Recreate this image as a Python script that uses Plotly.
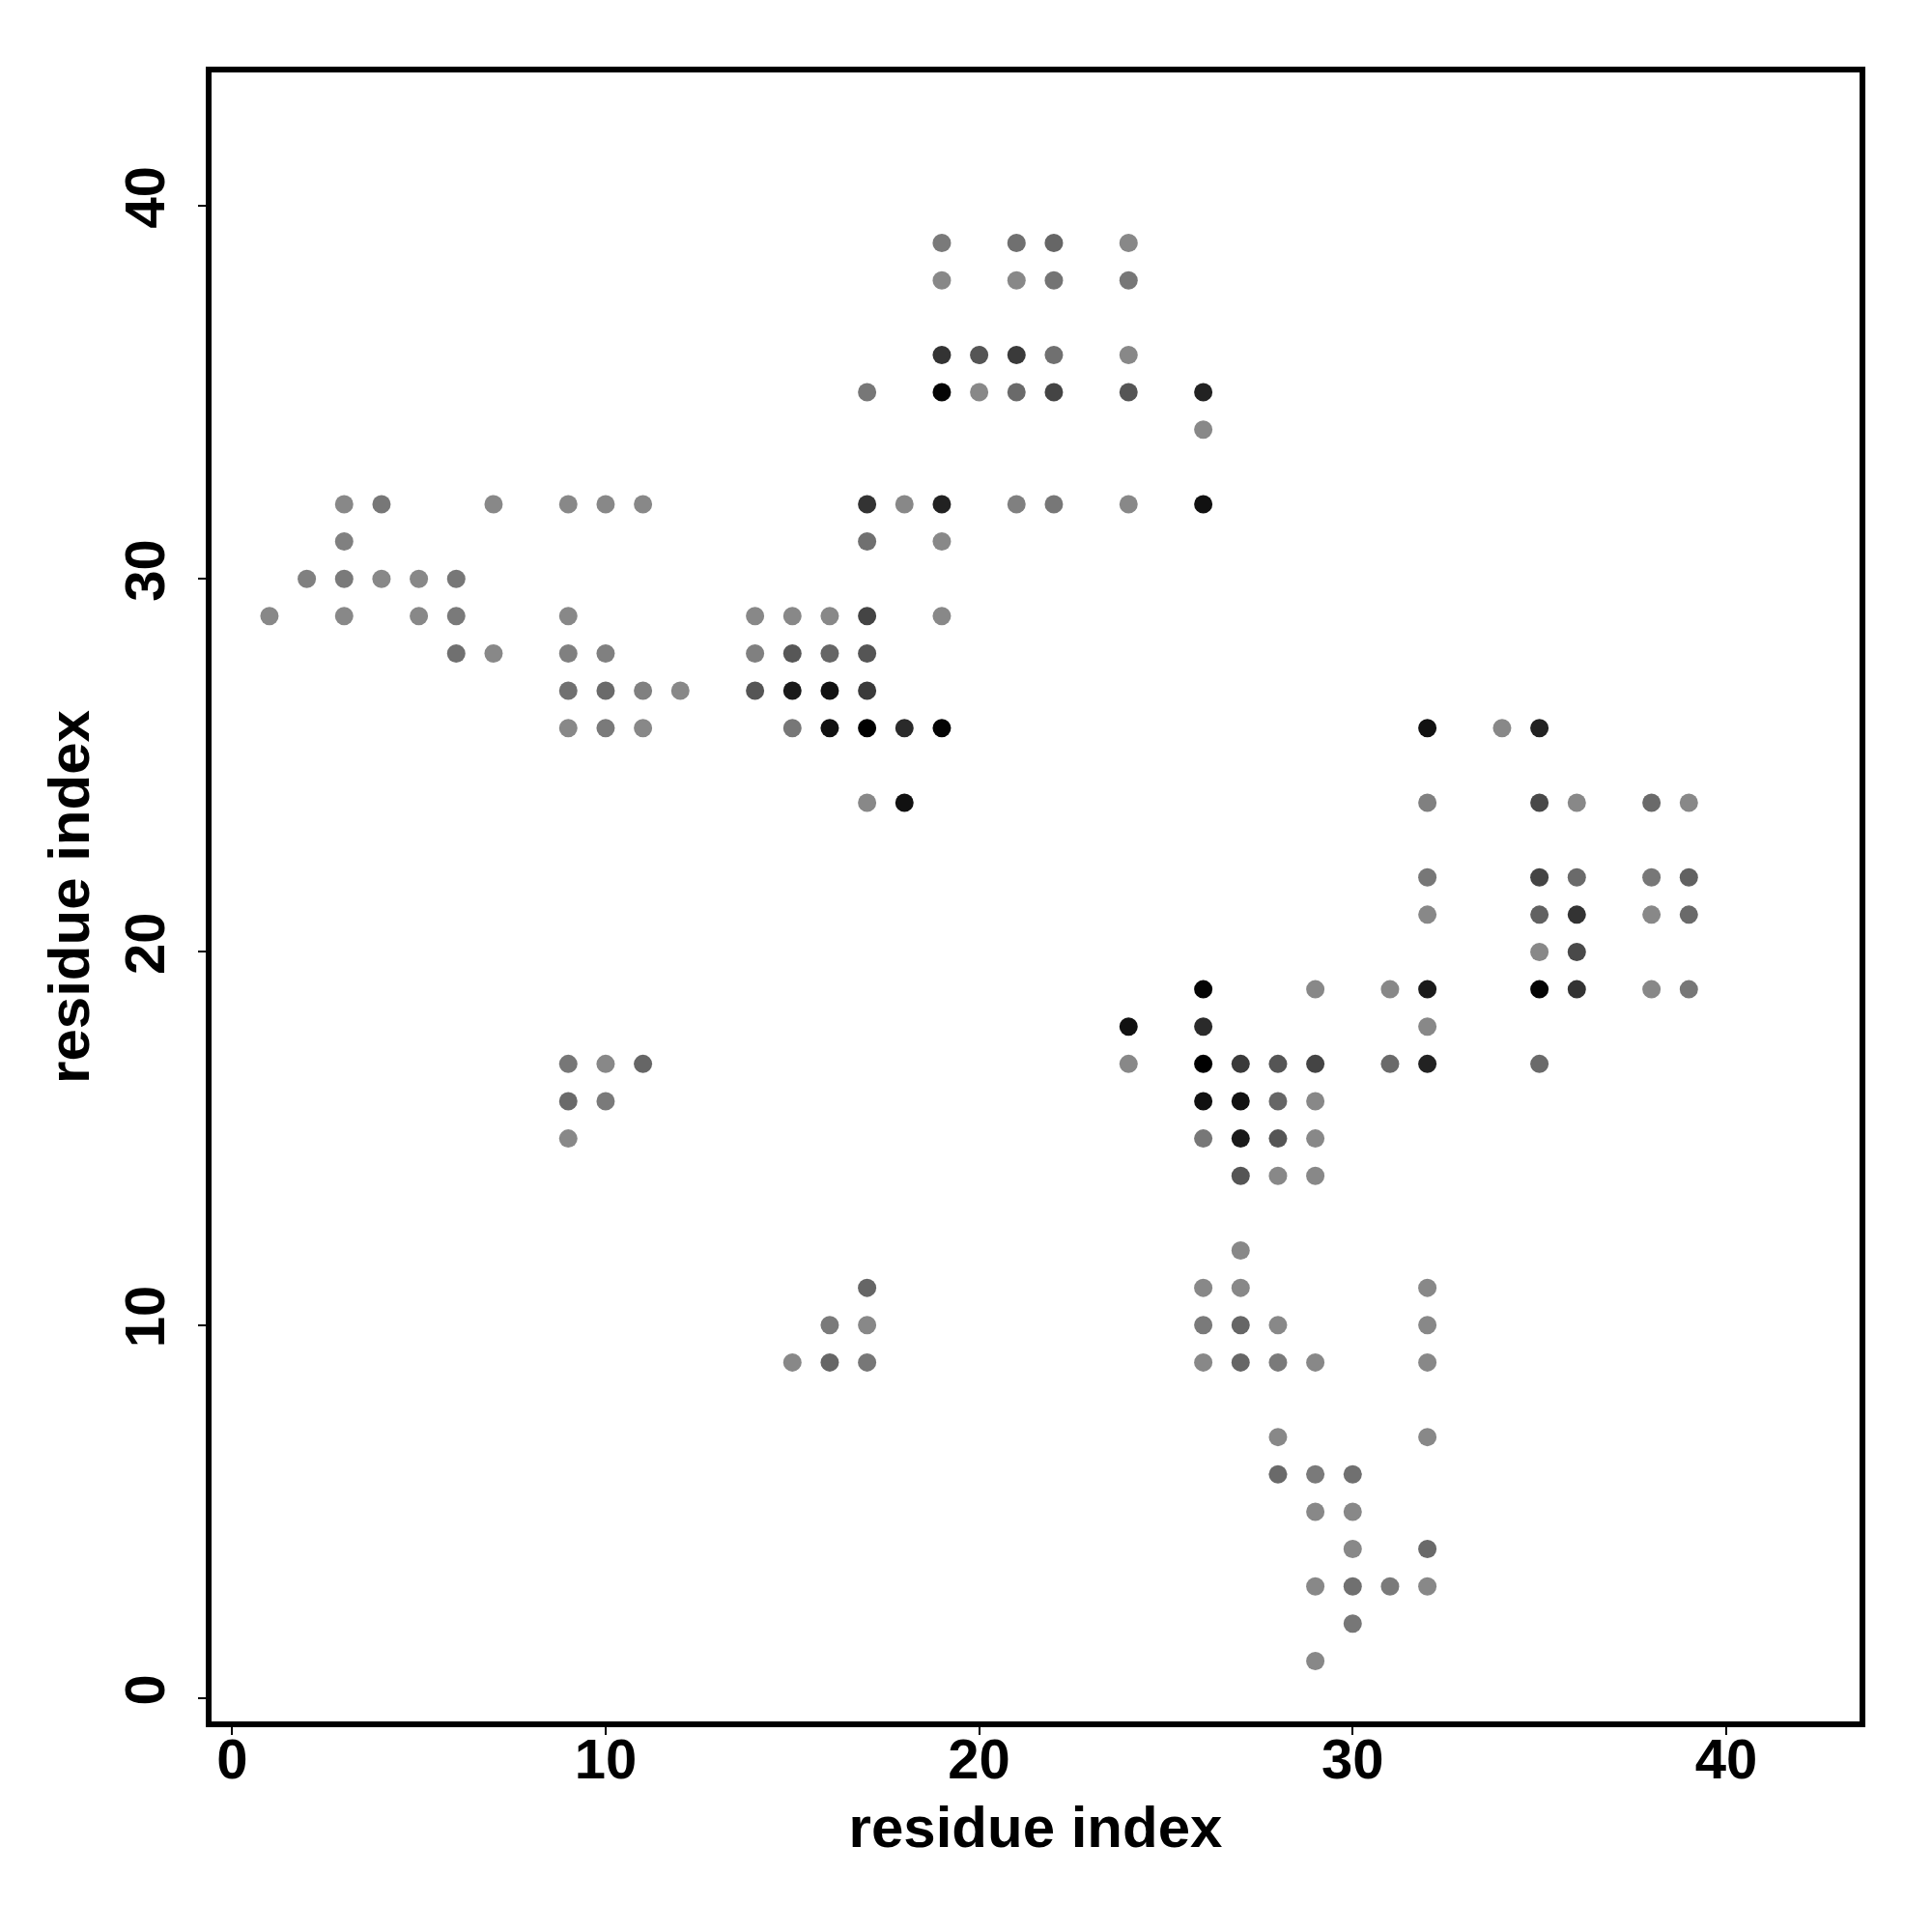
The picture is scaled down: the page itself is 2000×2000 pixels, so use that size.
import plotly.graph_objects as go

# Contact points: residue i (x), residue j (y), contact strength (0 = light gray, 1 = black)
res_x = [
    19, 21, 22, 24,
    19, 21, 22, 24,
    19, 20, 21, 22, 24,
    17, 19, 20, 21, 22, 24, 26,
    26,
    3, 4, 7, 9, 10, 11, 17, 18, 19, 21, 22, 24, 26,
    3, 17, 19,
    2, 3, 4, 5, 6,
    1, 3, 5, 6, 9, 14, 15, 16, 17, 19,
    6, 7, 9, 10, 14, 15, 16, 17,
    9, 10, 11, 12, 14, 15, 16, 17,
    9, 10, 11, 15, 16, 17, 18, 19, 32, 34, 35,
    17, 18, 32, 35, 36, 38, 39,
    32, 35, 36, 38, 39,
    32, 35, 36, 38, 39,
    35, 36,
    26, 29, 31, 32, 35, 36, 38, 39,
    24, 26, 32,
    9, 10, 11, 24, 26, 27, 28, 29, 31, 32, 35,
    9, 10, 26, 27, 28, 29,
    9, 26, 27, 28, 29,
    27, 28, 29,
    27,
    17, 26, 27, 32,
    16, 17, 26, 27, 28, 32,
    15, 16, 17, 26, 27, 28, 29, 32,
    28, 32,
    28, 29, 30,
    29, 30,
    30, 32,
    29, 30, 31, 32,
    30,
    29,
]
res_y = [
    39, 39, 39, 39,
    38, 38, 38, 38,
    36, 36, 36, 36, 36,
    35, 35, 35, 35, 35, 35, 35,
    34,
    32, 32, 32, 32, 32, 32, 32, 32, 32, 32, 32, 32, 32,
    31, 31, 31,
    30, 30, 30, 30, 30,
    29, 29, 29, 29, 29, 29, 29, 29, 29, 29,
    28, 28, 28, 28, 28, 28, 28, 28,
    27, 27, 27, 27, 27, 27, 27, 27,
    26, 26, 26, 26, 26, 26, 26, 26, 26, 26, 26,
    24, 24, 24, 24, 24, 24, 24,
    22, 22, 22, 22, 22,
    21, 21, 21, 21, 21,
    20, 20,
    19, 19, 19, 19, 19, 19, 19, 19,
    18, 18, 18,
    17, 17, 17, 17, 17, 17, 17, 17, 17, 17, 17,
    16, 16, 16, 16, 16, 16,
    15, 15, 15, 15, 15,
    14, 14, 14,
    12,
    11, 11, 11, 11,
    10, 10, 10, 10, 10, 10,
    9, 9, 9, 9, 9, 9, 9, 9,
    7, 7,
    6, 6, 6,
    5, 5,
    4, 4,
    3, 3, 3, 3,
    2,
    1,
]
strength = [
    0.10, 0.18, 0.25, 0.00,
    0.00, 0.00, 0.15, 0.125,
    0.625, 0.375, 0.57, 0.18, 0.00,
    0.125, 0.97, 0.00, 0.22, 0.50, 0.375, 0.75,
    0.00,
    0.00, 0.125, 0.00, 0.00, 0.00, 0.00, 0.625, 0.00, 0.75, 0.06, 0.125, 0.00, 0.875,
    0.06, 0.18, 0.00,
    0.06, 0.10, 0.00, 0.00, 0.125,
    0.00, 0.00, 0.00, 0.10, 0.00, 0.00, 0.00, 0.00, 0.50, 0.00,
    0.18, 0.00, 0.06, 0.06, 0.06, 0.36, 0.25, 0.375,
    0.18, 0.22, 0.06, 0.00, 0.375, 0.81, 0.875, 0.57,
    0.00, 0.10, 0.00, 0.125, 0.875, 1.00, 0.69, 0.97, 0.875, 0.00, 0.75,
    0.00, 0.875, 0.06, 0.46, 0.00, 0.22, 0.00,
    0.125, 0.50, 0.22, 0.125, 0.29,
    0.00, 0.29, 0.625, 0.00, 0.22,
    0.00, 0.46,
    0.97, 0.00, 0.00, 0.81, 0.97, 0.625, 0.00, 0.125,
    0.875, 0.69, 0.00,
    0.125, 0.00, 0.25, 0.00, 1.00, 0.57, 0.375, 0.50, 0.22, 0.75, 0.22,
    0.22, 0.10, 0.875, 0.875, 0.25, 0.00,
    0.00, 0.125, 0.81, 0.375, 0.00,
    0.375, 0.00, 0.00,
    0.00,
    0.25, 0.00, 0.00, 0.00,
    0.10, 0.00, 0.10, 0.25, 0.00, 0.00,
    0.00, 0.25, 0.125, 0.00, 0.25, 0.10, 0.00, 0.00,
    0.00, 0.00,
    0.22, 0.10, 0.18,
    0.00, 0.00,
    0.00, 0.22,
    0.00, 0.18, 0.10, 0.00,
    0.125,
    0.00,
]

tick_vals = [0, 10, 20, 30, 40]
tick_text = ["0", "10", "20", "30", "40"]
axis_title = "residue index"

font_family = "Liberation Sans, Arial, Helvetica, sans-serif"

fig = go.Figure()
fig.add_trace(go.Scatter(
    x=res_x,
    y=res_y,
    mode="markers",
    marker=dict(
        size=19,
        color=strength,
        colorscale=[[0.0, "#888888"], [1.0, "#000000"]],
        cmin=0,
        cmax=1,
        line=dict(width=0),
        showscale=False,
    ),
    showlegend=False,
    hoverinfo="x+y",
))

axis_common = dict(
    showgrid=False,
    zeroline=False,
    showline=True,
    linewidth=6,
    linecolor="black",
    mirror=True,
    ticks="outside",
    ticklen=8,
    tickwidth=2,
    tickcolor="black",
    tickvals=tick_vals,
    ticktext=tick_text,
    tickfont=dict(family=font_family, size=58, color="black", weight="bold"),
)

fig.update_layout(
    width=2000,
    height=2000,
    margin=dict(l=211, r=83, t=67, b=226, autoexpand=False),
    paper_bgcolor="white",
    plot_bgcolor="white",
    font=dict(family=font_family, color="black"),
    xaxis=dict(
        range=[-0.55, 43.57],
        ticklabelstandoff=-25,
        title=dict(text=axis_title, font=dict(family=font_family, size=60, color="black", weight="bold"), standoff=20),
        **axis_common,
    ),
    yaxis=dict(
        range=[-0.62, 43.57],
        tickangle=-90,
        ticklabelstandoff=12,
        title=dict(text=axis_title, font=dict(family=font_family, size=60, color="black", weight="bold"), standoff=7),
        **axis_common,
    ),
)

fig.write_html("out.html")
